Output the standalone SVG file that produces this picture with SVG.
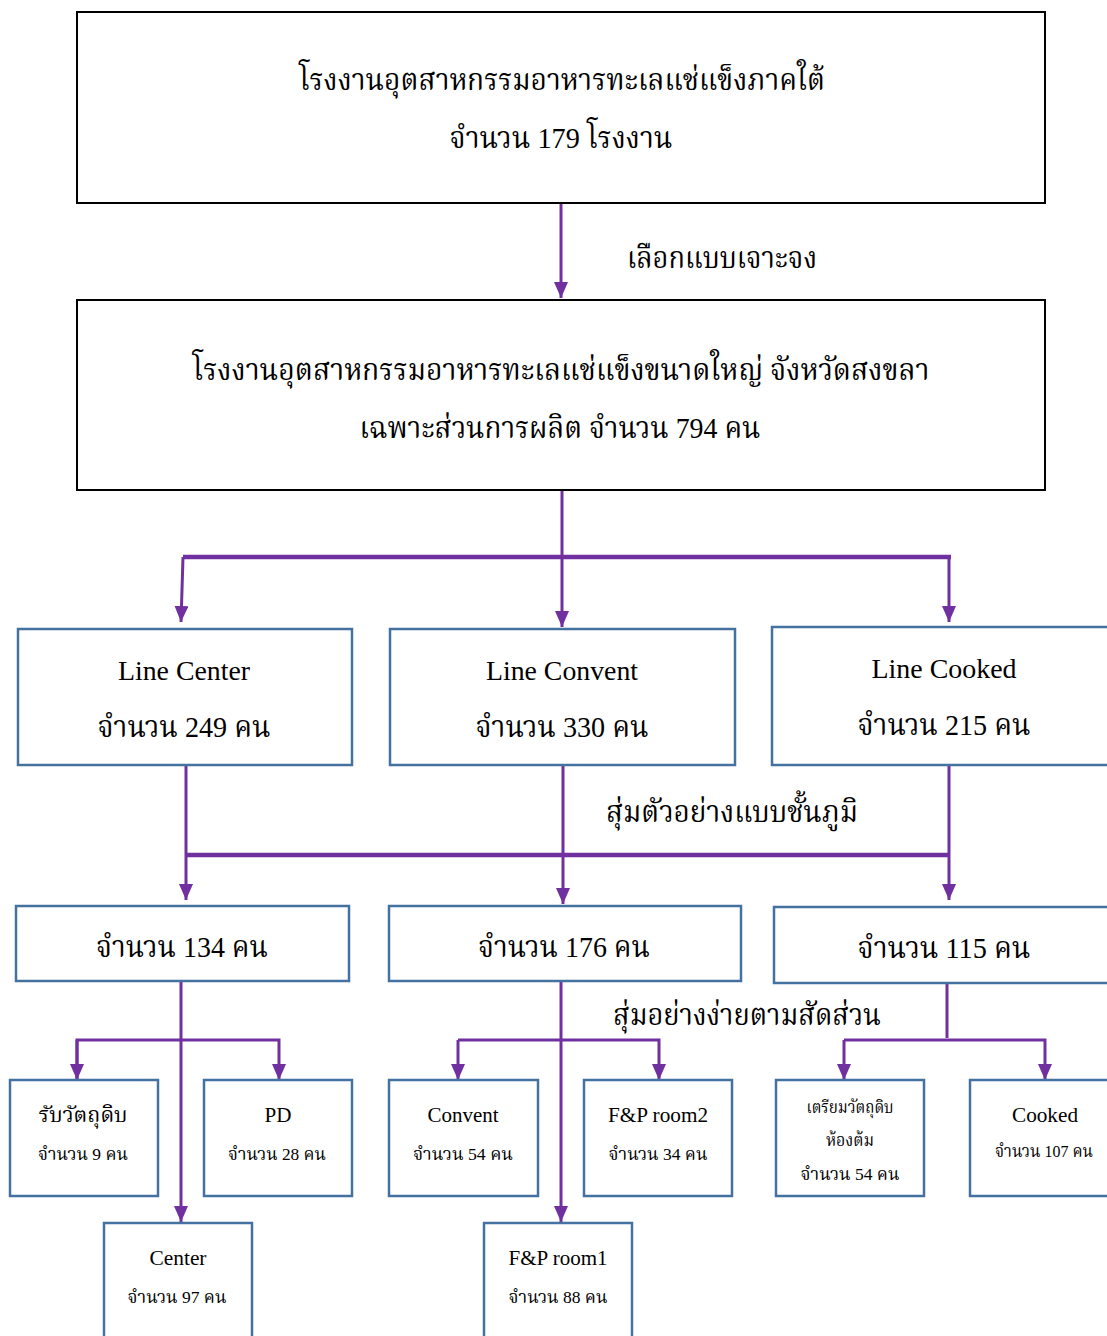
<svg xmlns="http://www.w3.org/2000/svg" width="1107" height="1336" viewBox="0 0 1107 1336">
<style>
text{font-family:"Liberation Serif","Noto Serif Thai","Noto Sans Thai","Noto Sans",serif;fill:#000;text-anchor:middle}
.big{font-size:30px}
.mid{font-size:28px}
.sm{font-size:21px}
.xs{font-size:17px}
.lbl{text-anchor:start}
.bk{fill:#fff;stroke:#000;stroke-width:2}
.bl{fill:#fff;stroke:#4472A0;stroke-width:2.5}
.c{fill:none;stroke:#7030A0;stroke-width:3}
.t{fill:none;stroke:#7030A0;stroke-width:4.5}
</style>
<defs>
<marker id="ah" markerUnits="userSpaceOnUse" markerWidth="18" markerHeight="14" refX="16" refY="7" orient="auto">
<path d="M0,0 L16,7 L0,14 z" fill="#7030A0"/>
</marker>
</defs>
<rect width="1107" height="1336" fill="#fff"/>
<g id="connectors">
<line class="c" x1="561" y1="203" x2="561" y2="298" marker-end="url(#ah)"/>
<line class="c" x1="562" y1="490" x2="562" y2="627" marker-end="url(#ah)"/>
<line class="t" x1="183" y1="557" x2="951" y2="557"/>
<line class="c" x1="183" y1="557" x2="181" y2="622" marker-end="url(#ah)"/>
<line class="c" x1="949" y1="557" x2="949" y2="622" marker-end="url(#ah)"/>
<line class="c" x1="186" y1="765" x2="186" y2="900" marker-end="url(#ah)"/>
<line class="c" x1="563" y1="765" x2="563" y2="904" marker-end="url(#ah)"/>
<line class="c" x1="949" y1="765" x2="949" y2="900" marker-end="url(#ah)"/>
<line class="t" x1="186" y1="855" x2="949" y2="855"/>
<line class="c" x1="181" y1="981" x2="181" y2="1222" marker-end="url(#ah)"/>
<polyline class="c" points="77,1080 77,1040 279,1040 279,1080" marker-end="url(#ah)"/>
<line class="c" x1="77" y1="1040" x2="77" y2="1080" marker-end="url(#ah)"/>
<line class="c" x1="561" y1="981" x2="561" y2="1222" marker-end="url(#ah)"/>
<polyline class="c" points="458,1040 659,1040 659,1080" marker-end="url(#ah)"/>
<line class="c" x1="458" y1="1040" x2="458" y2="1080" marker-end="url(#ah)"/>
<line class="c" x1="947" y1="983" x2="947" y2="1038"/>
<polyline class="c" points="844,1040 1045,1040 1045,1080" marker-end="url(#ah)"/>
<line class="c" x1="844" y1="1040" x2="844" y2="1080" marker-end="url(#ah)"/>
<text class="big lbl" x="627" y="268" textLength="190" lengthAdjust="spacingAndGlyphs">เลือกแบบเจาะจง</text>
<text class="big lbl" x="606" y="822" textLength="252" lengthAdjust="spacingAndGlyphs">สุ่มตัวอย่างแบบชั้นภูมิ</text>
<text class="big lbl" x="613" y="1025" textLength="268" lengthAdjust="spacingAndGlyphs">สุ่มอย่างง่ายตามสัดส่วน</text>
</g>
<g id="n-factories">
<rect class="bk" x="77" y="12" width="968" height="191"/>
<text class="big" x="562" y="90" textLength="526" lengthAdjust="spacingAndGlyphs">โรงงานอุตสาหกรรมอาหารทะเลแช่แข็งภาคใต้</text>
<text class="big" x="561" y="148" textLength="223" lengthAdjust="spacingAndGlyphs">จำนวน 179 โรงงาน</text>
</g>
<g id="n-songkhla">
<rect class="bk" x="77" y="300" width="968" height="190"/>
<text class="big" x="561" y="380" textLength="737" lengthAdjust="spacingAndGlyphs">โรงงานอุตสาหกรรมอาหารทะเลแช่แข็งขนาดใหญ่ จังหวัดสงขลา</text>
<text class="big" x="560" y="438" textLength="401" lengthAdjust="spacingAndGlyphs">เฉพาะส่วนการผลิต จำนวน 794 คน</text>
</g>
<g id="n-line-center">
<rect class="bl" x="18" y="629" width="334" height="136"/>
<text class="mid" x="184" y="680" textLength="132" lengthAdjust="spacingAndGlyphs">Line Center</text>
<text class="big" x="184" y="737" textLength="173" lengthAdjust="spacingAndGlyphs">จำนวน 249 คน</text>
</g>
<g id="n-line-convent">
<rect class="bl" x="390" y="629" width="345" height="136"/>
<text class="mid" x="562" y="680" textLength="152" lengthAdjust="spacingAndGlyphs">Line Convent</text>
<text class="big" x="562" y="737" textLength="173" lengthAdjust="spacingAndGlyphs">จำนวน 330 คน</text>
</g>
<g id="n-line-cooked">
<rect class="bl" x="772" y="627" width="345" height="138"/>
<text class="mid" x="944" y="678" textLength="145" lengthAdjust="spacingAndGlyphs">Line Cooked</text>
<text class="big" x="944" y="735" textLength="173" lengthAdjust="spacingAndGlyphs">จำนวน 215 คน</text>
</g>
<g id="n-s134">
<rect class="bl" x="16" y="906" width="333" height="75"/>
<text class="big" x="182" y="957" textLength="172" lengthAdjust="spacingAndGlyphs">จำนวน 134 คน</text>
</g>
<g id="n-s176">
<rect class="bl" x="389" y="906" width="352" height="75"/>
<text class="big" x="564" y="957" textLength="172" lengthAdjust="spacingAndGlyphs">จำนวน 176 คน</text>
</g>
<g id="n-s115">
<rect class="bl" x="774" y="907" width="343" height="76"/>
<text class="big" x="944" y="958" textLength="173" lengthAdjust="spacingAndGlyphs">จำนวน 115 คน</text>
</g>
<g id="n-raw">
<rect class="bl" x="10" y="1080" width="148" height="116"/>
<text class="sm" x="83" y="1122" textLength="89" lengthAdjust="spacingAndGlyphs">รับวัตถุดิบ</text>
<text class="xs" x="83" y="1160" textLength="90" lengthAdjust="spacingAndGlyphs">จำนวน 9 คน</text>
</g>
<g id="n-pd">
<rect class="bl" x="204" y="1080" width="148" height="116"/>
<text class="sm" x="278" y="1122" textLength="27" lengthAdjust="spacingAndGlyphs">PD</text>
<text class="xs" x="277" y="1160" textLength="98" lengthAdjust="spacingAndGlyphs">จำนวน 28 คน</text>
</g>
<g id="n-center">
<rect class="bl" x="104" y="1223" width="148" height="130"/>
<text class="sm" x="178" y="1265" textLength="57" lengthAdjust="spacingAndGlyphs">Center</text>
<text class="xs" x="177" y="1303" textLength="99" lengthAdjust="spacingAndGlyphs">จำนวน 97 คน</text>
</g>
<g id="n-convent">
<rect class="bl" x="389" y="1080" width="149" height="116"/>
<text class="sm" x="463" y="1122" textLength="71" lengthAdjust="spacingAndGlyphs">Convent</text>
<text class="xs" x="463" y="1160" textLength="100" lengthAdjust="spacingAndGlyphs">จำนวน 54 คน</text>
</g>
<g id="n-fp2">
<rect class="bl" x="584" y="1080" width="148" height="116"/>
<text class="sm" x="658" y="1122" textLength="100" lengthAdjust="spacingAndGlyphs">F&amp;P room2</text>
<text class="xs" x="658" y="1160" textLength="99" lengthAdjust="spacingAndGlyphs">จำนวน 34 คน</text>
</g>
<g id="n-fp1">
<rect class="bl" x="484" y="1223" width="148" height="130"/>
<text class="sm" x="558" y="1265" textLength="99" lengthAdjust="spacingAndGlyphs">F&amp;P room1</text>
<text class="xs" x="558" y="1303" textLength="99" lengthAdjust="spacingAndGlyphs">จำนวน 88 คน</text>
</g>
<g id="n-prep">
<rect class="bl" x="776" y="1080" width="148" height="116"/>
<text class="xs" x="850" y="1113" textLength="87" lengthAdjust="spacingAndGlyphs">เตรียมวัตถุดิบ</text>
<text class="xs" x="850" y="1146" textLength="48" lengthAdjust="spacingAndGlyphs">ห้องต้ม</text>
<text class="xs" x="850" y="1180" textLength="99" lengthAdjust="spacingAndGlyphs">จำนวน 54 คน</text>
</g>
<g id="n-cooked">
<rect class="bl" x="970" y="1080" width="147" height="116"/>
<text class="sm" x="1045" y="1122" textLength="66" lengthAdjust="spacingAndGlyphs">Cooked</text>
<text class="xs" x="1044" y="1157" textLength="98" lengthAdjust="spacingAndGlyphs">จำนวน 107 คน</text>
</g>
</svg>
